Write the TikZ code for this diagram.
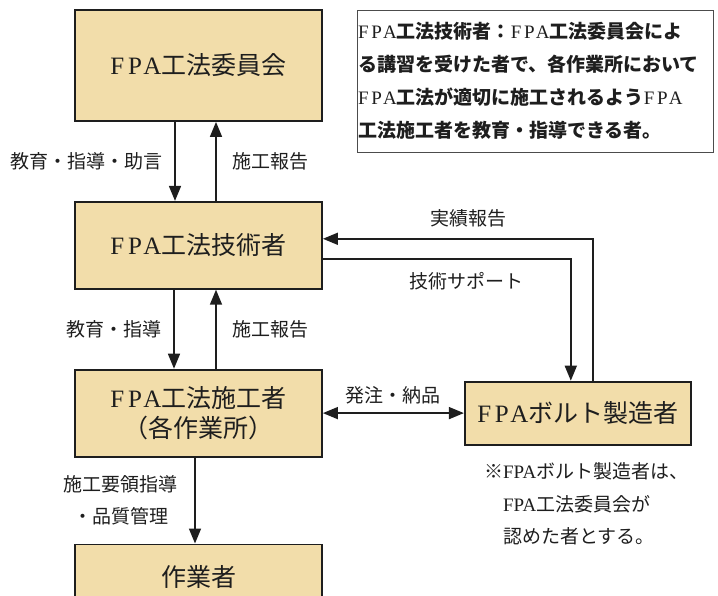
\documentclass[tikz,border=0pt]{standalone}
\usepackage{fontspec}
\setmainfont{Liberation Serif}
\newfontfamily\jp{Noto Sans CJK JP}
\newfontfamily\fparm{Liberation Serif}[LetterSpace=15]
\usetikzlibrary{arrows.meta,positioning}
\newcommand{\fpa}{{\fparm\mdseries FPA}}
\newcommand{\fpan}{{\rmfamily\mdseries FPA}}
\definecolor{boxfill}{RGB}{242,221,170}
\definecolor{ink}{RGB}{30,30,30}

\begin{document}
\begin{tikzpicture}[x=1pt,y=-1pt,->,>={Triangle[length=15pt,width=12pt]},
    line width=1.6pt,color=ink,
    orgbox/.style={draw,fill=boxfill,line width=1.8pt,minimum width=247pt,
      align=center,font=\jp\fontsize{25}{30}\selectfont},
    edgelbl/.style={font=\jp\fontsize{19}{32.5}\selectfont,align=center},
    notebox/.style={draw=gray!60!black,line width=0.9pt,text width=354pt,inner sep=1pt,
      minimum height=142pt,align=left,font=\jp\bfseries\fontsize{19}{33}\selectfont}]

  \useasboundingbox (0,0) rectangle (718,596);
  \clip (0,0) rectangle (718,596);

  \node[orgbox,minimum height=111pt] (iinkai) at (198.5,65.5) {\fpa 工法委員会};
  \node[orgbox,minimum height=87pt,below=79pt of iinkai] (gijutsusha) {\fpa 工法技術者};
  \node[orgbox,minimum height=87pt,below=79pt of gijutsusha] (sekousha) {\fpa 工法施工者\\（各作業所）};
  \node[orgbox,minimum height=66pt,below=86pt of sekousha] (sagyousha) {作業者};
  \node[orgbox,minimum width=226pt,minimum height=63pt,right=141pt of sekousha] (bolt) {\fpa ボルト製造者};

  \node[notebox] (teigi) at (535,81) {\fpa 工法技術者：\fpa 工法委員会によ\\る講習を受けた者で、各作業所において\\\fpa 工法が適切に施工されるよう\fpa\\工法施工者を教育・指導できる者。};
  \node[edgelbl,align=left,anchor=west] (chuui) at (499,504) {\llap{※}\fpan ボルト製造者は、\\\fpan 工法委員会が\\認めた者とする。};

  \draw ([xshift=-23.5pt]iinkai.south) -- node[edgelbl,left=8pt] {教育・指導・助言} ([xshift=-23.5pt]gijutsusha.north);
  \draw ([xshift=17.5pt]gijutsusha.north) -- node[edgelbl,right=12pt] {施工報告} ([xshift=17.5pt]iinkai.south);
  \draw ([xshift=-24.5pt]gijutsusha.south) -- node[edgelbl,left=8pt] {教育・指導} ([xshift=-24.5pt]sekousha.north);
  \draw ([xshift=17.5pt]sekousha.north) -- node[edgelbl,right=12pt] {施工報告} ([xshift=17.5pt]gijutsusha.south);
  \draw ([xshift=-3.5pt]sekousha.south) -- node[edgelbl,left=13pt] {施工要領指導\\・品質管理} ([xshift=-3.5pt]sagyousha.north);

  \draw ([xshift=15pt]bolt.north) |- node[edgelbl,above=7pt,pos=0.73] {実績報告} ([yshift=6.5pt]gijutsusha.east);
  \draw ([yshift=-13.5pt]gijutsusha.east) -| node[edgelbl,below=9pt,pos=0.29] {技術サポート} ([xshift=-7pt]bolt.north);
  \draw[<->] (sekousha.east) -- node[edgelbl,above=5pt] {発注・納品} (sekousha.east -| bolt.west);

\end{tikzpicture}
\end{document}
